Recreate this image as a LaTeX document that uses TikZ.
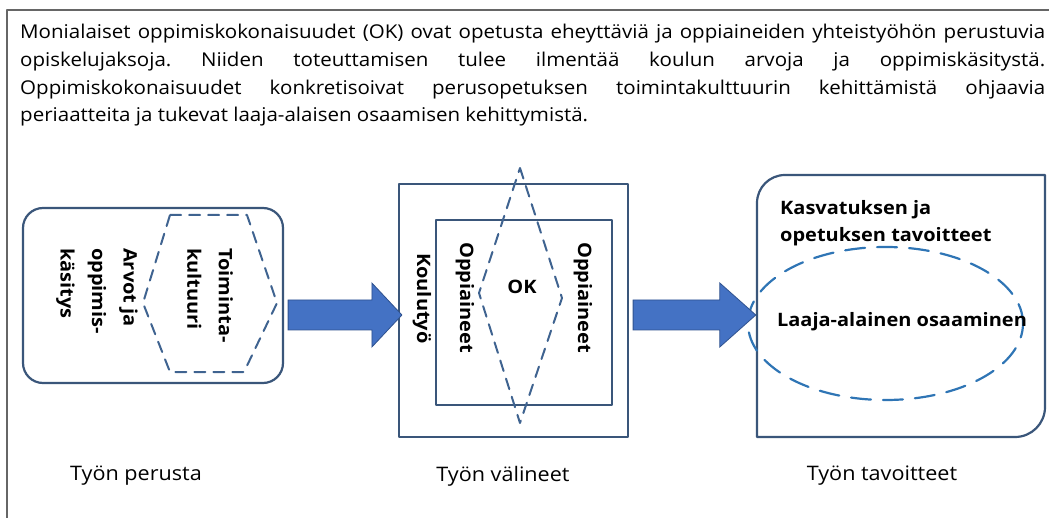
\documentclass[tikz,border=0pt]{standalone}
\usepackage{fontspec}
\setmainfont{Open Sans}[FakeStretch=1.08]
\usepackage{tikz}
\usetikzlibrary{shapes,calc}
\definecolor{boxblue}{HTML}{3A567A}
\definecolor{dashblue}{HTML}{3F6390}
\definecolor{ellblue}{HTML}{2F75B5}
\definecolor{arrowblue}{HTML}{4472C4}
\definecolor{arrowedge}{HTML}{2F528F}
\tikzstyle{box} = [draw=boxblue, line width=2.2pt]
\tikzstyle{dashline} = [draw=dashblue, line width=2pt, dash pattern=on 11pt off 8pt]
\tikzset{
  vtext/.style ={rotate=-90, font=\bfseries\fontsize{18.5}{31.5}\selectfont, align=left, inner sep=0pt},
  label/.style ={font=\fontsize{20}{24}\selectfont, inner sep=0pt},
  bigarrow/.style ={fill=arrowblue, draw=arrowedge, line width=0.8pt, line join=miter}
}

\begin{document}
\begin{tikzpicture}[line cap=round,line join=round,x=1pt,y=-1pt]
\useasboundingbox (0,0) rectangle (1049,518);
\draw[draw=black!60, line width=1.4pt, line cap=butt] (7,518) -- (7,10) -- (1049,10);
\node[anchor=north west, text width=1025pt, align=justify, inner sep=0pt, font=\fontsize{19}{27.7}\selectfont] (intro) at (20,24) {\frenchspacing\hyphenpenalty=10000 \tolerance=10000 Monialaiset oppimiskokonaisuudet (OK) ovat opetusta eheyttäviä ja oppiaineiden yhteistyöhön perustuvia\linebreak opiskelujaksoja. Niiden toteuttamisen tulee ilmentää koulun arvoja ja oppimiskäsitystä.\linebreak Oppimiskokonaisuudet konkretisoivat perusopetuksen toimintakulttuurin kehittämistä ohjaavia\linebreak periaatteita ja tukevat laaja-alaisen osaamisen kehittymistä.};
\node[box, rounded corners=20pt, minimum width=260pt, minimum height=175pt] (perusta) at (153,295.5) {};
\draw[dashline] (170,215) -- (247,215) -- (277,303) -- (244,372) -- (170,372) -- (143,303) -- cycle;
\node[vtext, anchor=west] (toiminta) at (210,248) {Toiminta-\\kultuuri};
\node[vtext, anchor=west] (arvot) at (97,248) {Arvot ja\\oppimis-\\käsitys};
\node[box, minimum width=229pt, minimum height=253pt] (valineet) at (513.5,310.5) {};
\node[box, minimum width=176pt, minimum height=185pt] (oppiaineet) at (524,312.5) {};
\draw[dashline] (520,168) -- (562,298) -- (520,423) -- (479,293) -- cycle;
\node[vtext, anchor=west] (koulutyo) at (422,253) {Koulutyö};
\node[vtext, anchor=west] (oppleft) at (465,242) {Oppiaineet};
\node[vtext, anchor=west] (oppright) at (583,242) {Oppiaineet};
\node[font=\bfseries\fontsize{18.5}{22}\selectfont] (ok) at (522,287) {OK};
\node[minimum width=288pt, minimum height=262pt] (tavoitteet) at (901,306) {};
\draw[box] (757,437) -- (757,203) .. controls (757,187.5) and (769.5,175) .. (785,175) -- (1045,175) -- (1045,407) .. controls (1045,423.6) and (1031.6,437) .. (1015,437) -- cycle;
\node[draw=ellblue, line width=2.2pt, dash pattern=on 20pt off 12pt, ellipse, minimum width=275pt, minimum height=153pt, inner sep=0pt] (laaja) at (885.5,323.5) {};
\node[font=\bfseries\fontsize{18.5}{27}\selectfont, align=left, anchor=north west, inner sep=0pt] (kasvatus) at (780,200) {Kasvatuksen ja\\opetuksen tavoitteet};
\node[font=\bfseries\fontsize{18.5}{22}\selectfont] (laajatext) at (902,322) {Laaja-alainen osaaminen};
\coordinate (mid) at (0,315);
\draw[bigarrow] let \p1=(perusta.east), \p2=(valineet.west), \p3=(mid) in (\x1+4pt,\y3+15pt) -- (\x2-26pt,\y3+15pt) -- (\x2-26pt,\y3+32pt) -- (\x2+4pt,\y3) -- (\x2-26pt,\y3-32pt) -- (\x2-26pt,\y3-15pt) -- (\x1+4pt,\y3-15pt) -- cycle;
\draw[bigarrow] let \p1=(valineet.east), \p2=(tavoitteet.west), \p3=(mid) in (\x1+4pt,\y3+15pt) -- (\x2-37pt,\y3+15pt) -- (\x2-37pt,\y3+32pt) -- (\x2-1pt,\y3) -- (\x2-37pt,\y3-32pt) -- (\x2-37pt,\y3-15pt) -- (\x1+4pt,\y3-15pt) -- cycle;
\node[label] (perustalbl) at (136,476) {Työn perusta};
\node[label] (valineetlbl) at (503,476) {Työn välineet};
\node[label] (tavoitteetlbl) at (882,476) {Työn tavoitteet};
\end{tikzpicture}
\end{document}
